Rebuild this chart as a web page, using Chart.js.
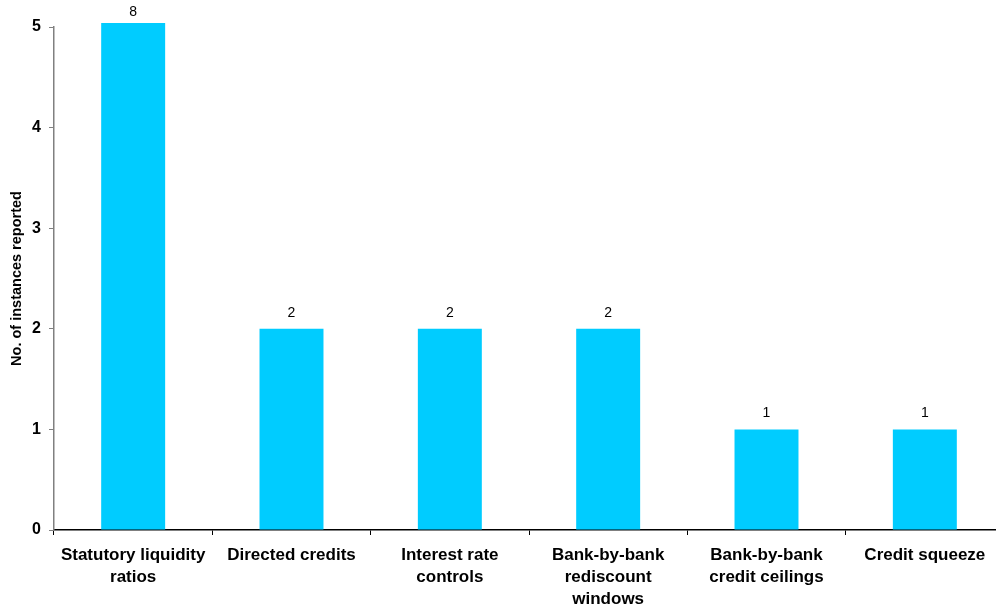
<!DOCTYPE html>
<html>
<head>
<meta charset="utf-8">
<title>Instances reported</title>
<script src="https://cdn.jsdelivr.net/npm/chart.js@4/dist/chart.umd.min.js"></script>
<style>
  html, body { margin: 0; padding: 0; background: #fff; overflow: hidden; }
  #wrap { width: 1010px; height: 612px; }
</style>
</head>
<body>
<div id="wrap"><canvas id="instancesChart" width="1010" height="612"></canvas></div>
<script>
// categories and counts
const categories = [
    ['Statutory liquidity', 'ratios'],
    ['Directed credits'],
    ['Interest rate', 'controls'],
    ['Bank-by-bank', 'rediscount', 'windows'],
    ['Bank-by-bank', 'credit ceilings'],
    ['Credit squeeze']
];
const instances = [8, 2, 2, 2, 1, 1];
const yTicks = [0, 1, 2, 3, 4, 5];
const yTitle = 'No. of instances reported';

// writes the count above each bar (bars past the axis top get capped)
const valueLabels = {
    id: 'valueLabels',
    afterDatasetsDraw(chart) {
        const ctx = chart.ctx;
        const meta = chart.getDatasetMeta(0);
        const top = chart.chartArea.top;
        ctx.save();
        ctx.font = '14px "Liberation Sans", Arial, sans-serif';
        ctx.fillStyle = '#000';
        ctx.textAlign = 'center';
        ctx.textBaseline = 'bottom';
        meta.data.forEach((bar, i) => {
            const capped = bar.y < top;
            const y = capped ? top - 8 : bar.y - 9;
            ctx.fillText(String(instances[i]), bar.x, y);
        });
        ctx.restore();
    }
};

const ctx = document.getElementById('instancesChart').getContext('2d');
new Chart(ctx, {
    type: 'bar',
    data: {
        labels: categories,
        datasets: [{
            data: instances,
            backgroundColor: '#00CCFF',
            borderWidth: 0,
            barPercentage: 0.404,
            categoryPercentage: 1,
            clip: { left: 0, right: 0, top: 4, bottom: 0 }
        }]
    },
    options: {
        responsive: false,
        animation: false,
        devicePixelRatio: 1,
        layout: { padding: { top: 27, right: 6, left: 0, bottom: 0 } },
        plugins: {
            legend: { display: false },
            tooltip: { enabled: false }
        },
        scales: {
            x: {
                offset: true,
                grid: {
                    offset: true,
                    drawOnChartArea: false,
                    drawTicks: true,
                    tickLength: 5,
                    color: '#000',
                    lineWidth: 1
                },
                border: { color: '#000', width: 1.5 },
                ticks: {
                    color: '#000',
                    maxRotation: 0,
                    autoSkip: false,
                    padding: 9,
                    font: { family: '"Liberation Sans", Arial, sans-serif', size: 17, weight: 'bold', lineHeight: 1.3 }
                },
                afterFit(scale) { scale.height = 82; }
            },
            y: {
                min: 0,
                max: 5,
                afterBuildTicks(scale) { scale.ticks = yTicks.map(v => ({ value: v })); },
                grid: {
                    drawOnChartArea: false,
                    drawTicks: true,
                    tickLength: 5,
                    color: '#808080',
                    lineWidth: 1
                },
                border: { color: '#808080', width: 1.5 },
                ticks: {
                    color: '#000',
                    padding: 8,
                    font: { family: '"Liberation Sans", Arial, sans-serif', size: 16, weight: 'bold' }
                },
                title: {
                    display: true,
                    text: yTitle,
                    color: '#000',
                    padding: { top: 8, bottom: 0 },
                    font: { family: '"Liberation Sans", Arial, sans-serif', size: 14.5, weight: 'bold' }
                },
                afterFit(scale) { scale.width = 54; }
            }
        }
    },
    plugins: [valueLabels]
});
</script>
</body>
</html>
